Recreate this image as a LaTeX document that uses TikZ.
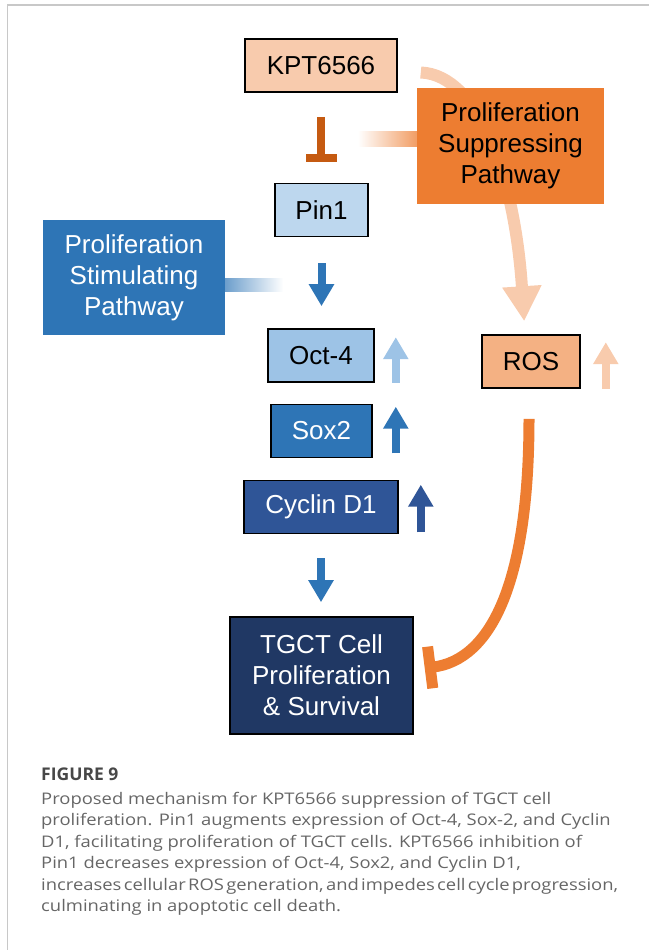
\documentclass[tikz,border=0pt]{standalone}
\usepackage{fontspec}
\setmainfont{Liberation Sans}
\newfontfamily\capfont{Open Sans}[FakeStretch=1.15]
\newfontfamily\figfont{Open Sans}
\usetikzlibrary{arrows.meta}

\definecolor{kptfill}{HTML}{F8CBAD}
\definecolor{suppfill}{HTML}{ED7D31}
\definecolor{rosfill}{HTML}{F4B183}
\definecolor{inhibitdark}{HTML}{C55A11}
\definecolor{pinfill}{HTML}{BDD7EE}
\definecolor{octfill}{HTML}{9DC3E6}
\definecolor{soxfill}{HTML}{2E75B6}
\definecolor{cycfill}{HTML}{2F5597}
\definecolor{tgctfill}{HTML}{203864}
\definecolor{capgray}{HTML}{666666}
\definecolor{framegray}{HTML}{C8C8C8}

\begin{document}
\begin{tikzpicture}[
  x=1pt, y=-1pt,
  every node/.style={font=\fontsize{26}{31}\selectfont, align=center, inner sep=0pt},
  mol/.style={draw=black, line width=1.6pt, minimum height=53pt},
  pathway/.style={minimum height=116pt},
  blockarrow/.style={line width=8pt, -{Triangle[width=24pt,length=22pt]}},
  inhibit/.style={line width=8pt, color=inhibitdark, -{Bar[width=31pt]}},
  caption/.style={font=\capfont\fontsize{16}{21.5}\selectfont, color=capgray, anchor=base west}
  ]
\useasboundingbox (0,0) rectangle (649,950);
\draw[framegray, line width=1.5pt] (7.5,950) -- (7.5,5) -- (649,5);

\node[mol, fill=kptfill, minimum width=152pt] (kpt) at (321,65.5) {KPT6566};
\node[mol, fill=pinfill, minimum width=93pt] (pin) at (321.5,210) {Pin1};
\node[mol, fill=octfill, minimum width=106pt] (oct) at (321,355.5) {Oct-4};
\node[mol, fill=rosfill, minimum width=98pt] (ros) at (531,361.5) {ROS};
\node[mol, fill=soxfill, text=white, minimum width=101pt] (sox) at (321.5,431) {Sox2};
\node[mol, fill=cycfill, text=white, minimum width=154pt] (cyc) at (321,507) {Cyclin D1};
\node[mol, fill=tgctfill, text=white, minimum width=183pt, minimum height=117pt] (tgct) at (321.5,675.5)
  {TGCT Cell\\Proliferation\\\& Survival};

\draw[kptfill, line width=12pt, shorten <=23pt, shorten >=13pt,
  -{Triangle[width=37pt,length=35pt]}]
  ([yshift=-6pt]kpt.east) .. controls (480,75) and (515,180) .. ([xshift=-6pt]ros.north);

\node[pathway, fill=suppfill, minimum width=187pt] (supp) at (510.5,146)
  {Proliferation\\Suppressing\\Pathway};
\node[pathway, fill=soxfill, text=white, minimum width=182pt, minimum height=115pt] (stim) at (134,277.5)
  {Proliferation\\Stimulating\\Pathway};

\shade[left color=white, right color=suppfill!75] ([yshift=-0.5pt]supp.west) rectangle ++(-59,-15);
\shade[left color=soxfill!70, right color=white] ([yshift=-1pt]stim.east) rectangle ++(58,13);

\draw[inhibit, shorten <=24pt, shorten >=21pt] (kpt.south) -- (kpt.south |- pin.north);
\draw[blockarrow, soxfill, shorten <=26pt, shorten >=22pt] (pin) -- (pin |- oct.north);
\draw[blockarrow, soxfill, shorten <=24pt, shorten >=14pt] (cyc) -- (cyc |- tgct.north);

\draw[blockarrow, octfill] ([xshift=21pt]oct.south east) -- ([xshift=21pt,yshift=-9pt]oct.north east);
\draw[blockarrow, soxfill] ([xshift=23pt,yshift=5pt]sox.south east) -- ([xshift=23pt,yshift=-3pt]sox.north east);
\draw[blockarrow, cycfill] ([xshift=22pt,yshift=2pt]cyc.south east) -- ([xshift=22pt,yshift=-5pt]cyc.north east);
\draw[blockarrow, kptfill] ([xshift=25pt]ros.south east) -- ([xshift=25pt,yshift=-8pt]ros.north east);

\draw[suppfill, line width=11pt, shorten <=30pt, shorten >=11pt, -{Bar[width=42pt]}]
  ([xshift=-2pt]ros.south) .. controls (529,585) and (490,660) .. ([yshift=6pt]tgct.east);

\node[caption, font=\figfont\bfseries\fontsize{17.5}{20}\selectfont, color=black!72] (figno) at (41,780) {FIGURE 9};
\node[caption] (cap1) at (41,804) {Proposed mechanism for KPT6566 suppression of TGCT cell};
\node[caption] (cap2) at (41,825.5) {proliferation. Pin1 augments expression of Oct-4, Sox-2, and Cyclin};
\node[caption] (cap3) at (41,847) {D1, facilitating proliferation of TGCT cells. KPT6566 inhibition of};
\node[caption] (cap4) at (41,868.5) {Pin1 decreases expression of Oct-4, Sox2, and Cyclin D1,};
\node[caption] (cap5) at (41,890) {\spaceskip=2.3pt\relax increases cellular ROS generation, and impedes cell cycle progression,};
\node[caption] (cap6) at (41,911.5) {culminating in apoptotic cell death.};
\end{tikzpicture}
\end{document}
